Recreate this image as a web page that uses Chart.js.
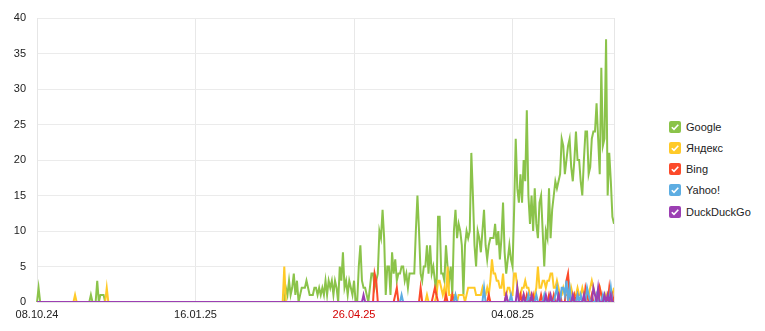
<!DOCTYPE html>
<html>
<head>
<meta charset="utf-8">
<script src="https://cdn.jsdelivr.net/npm/chart.js@4.4.1/dist/chart.umd.min.js"></script>
<style>
  html, body { margin: 0; padding: 0; background: #fff; }
  #wrap { position: relative; width: 765px; height: 331px; }
  #box { position: absolute; left: 0; top: 0; width: 640px; height: 331px; }
  #legend { position: absolute; left: 669px; top: 116px; font: 11px "Liberation Sans", Arial, sans-serif; color: #222; }
  #legend .item { height: 21.25px; display: flex; align-items: center; }
  #legend svg { margin-right: 5px; }
</style>
</head>
<body>
<div id="wrap">
  <div id="box"><canvas id="chart"></canvas></div>
  <div id="legend"></div>
</div>
<script>
// one value per day, starting 08.10.24
const startDate = new Date(2024, 9, 8);
const dayCount = 365;
const tickLabels = ['08.10.24', '16.01.25', '26.04.25', '04.08.25'];
const seriesNames = ['Google', 'Яндекс', 'Bing', 'Yahoo!', 'DuckDuckGo'];
const seriesColors = ['#8bc34a', '#ffca28', '#fc4a2a', '#5dade2', '#9c3fb3'];

const google = [
  0,2,0,0,0,0,0,0,0,0,0,0,0,0,0,0,0,0,0,0,
  0,0,0,0,0,0,0,0,0,0,0,0,0,0,1,0,0,0,3,0,
  1,1,1,0,0,0,0,0,0,0,0,0,0,0,0,0,0,0,0,0,
  0,0,0,0,0,0,0,0,0,0,0,0,0,0,0,0,0,0,0,0,
  0,0,0,0,0,0,0,0,0,0,0,0,0,0,0,0,0,0,0,0,
  0,0,0,0,0,0,0,0,0,0,0,0,0,0,0,0,0,0,0,0,
  0,0,0,0,0,0,0,0,0,0,0,0,0,0,0,0,0,0,0,0,
  0,0,0,0,0,0,0,0,0,0,0,0,0,0,0,0,0,2,1,3,
  1,2,4,1,3,0,1,2,2,2,3,2,1,1,1,2,2,1,2,1,
  2,1,3,1,3,2,3,1,3,2,0,5,3,7,2,3,1,3,2,1,
  3,0,0,5,8,3,2,2,1,0,2,4,4,2,3,4,10,9,13,9,
  1,5,5,1,7,4,6,3,4,4,5,5,3,4,2,4,4,4,4,10,
  15,10,4,3,5,5,8,4,8,4,5,3,1,12,12,4,4,3,8,5,
  3,5,1,10,13,9,11,10,8,1,8,10,9,10,21,15,8,5,10,9,
  7,10,13,8,6,8,9,9,9,11,8,10,6,9,14,7,4,6,8,6,
  5,13,23,16,14,18,14,20,17,27,15,11,15,10,16,11,9,14,15,10,
  5,10,9,16,9,13,15,17,16,17,18,23,22,18,20,22,23,19,17,20,
  24,20,20,17,15,20,24,24,18,19,23,24,24,28,23,18,33,22,23,37,
  15,21,17,12,11
];

const yandex = [
  0,0,0,0,0,0,0,0,0,0,0,0,0,0,0,0,0,0,0,0,
  0,0,0,0,1,0,0,0,0,0,0,0,0,0,0,0,0,0,0,0,
  0,0,0,0,2,0,0,0,0,0,0,0,0,0,0,0,0,0,0,0,
  0,0,0,0,0,0,0,0,0,0,0,0,0,0,0,0,0,0,0,0,
  0,0,0,0,0,0,0,0,0,0,0,0,0,0,0,0,0,0,0,0,
  0,0,0,0,0,0,0,0,0,0,0,0,0,0,0,0,0,0,0,0,
  0,0,0,0,0,0,0,0,0,0,0,0,0,0,0,0,0,0,0,0,
  0,0,0,0,0,0,0,0,0,0,0,0,0,0,0,0,5,0,0,0,
  0,0,0,0,0,0,0,0,0,0,0,0,0,0,0,0,0,0,0,0,
  0,0,0,0,0,0,0,0,0,0,0,0,0,0,0,0,0,0,0,0,
  0,0,0,0,0,0,0,0,0,0,0,0,0,0,0,0,0,0,0,0,
  0,0,0,0,0,0,0,0,0,0,0,0,0,0,0,0,0,0,0,0,
  0,0,0,0,0,0,1,0,0,0,0,0,1,3,3,2,1,2,0,5,
  1,1,0,1,1,0,1,1,1,1,0,1,2,2,2,2,2,1,1,1,
  1,2,1,1,2,1,3,6,4,4,3,3,2,2,4,1,1,2,2,1,
  1,4,4,2,1,1,2,2,3,2,2,1,1,0,1,2,5,2,2,3,
  3,2,3,3,4,4,2,2,3,2,1,1,2,1,1,1,0,2,1,1,
  1,2,1,1,2,1,0,1,1,2,3,2,1,1,1,2,1,1,0,1,
  0,1,1,1,2
];

const bing = [
  0,0,0,0,0,0,0,0,0,0,0,0,0,0,0,0,0,0,0,0,
  0,0,0,0,0,0,0,0,0,0,0,0,0,0,0,0,0,0,0,0,
  0,0,0,0,0,0,0,0,0,0,0,0,0,0,0,0,0,0,0,0,
  0,0,0,0,0,0,0,0,0,0,0,0,0,0,0,0,0,0,0,0,
  0,0,0,0,0,0,0,0,0,0,0,0,0,0,0,0,0,0,0,0,
  0,0,0,0,0,0,0,0,0,0,0,0,0,0,0,0,0,0,0,0,
  0,0,0,0,0,0,0,0,0,0,0,0,0,0,0,0,0,0,0,0,
  0,0,0,0,0,0,0,0,0,0,0,0,0,0,0,0,0,0,0,0,
  0,0,0,0,0,0,0,0,0,0,0,0,0,0,0,0,0,0,0,0,
  0,0,0,0,0,0,0,0,0,0,0,0,0,0,0,0,0,0,0,0,
  0,0,0,0,0,0,0,0,0,0,0,0,0,4,3,0,0,0,0,0,
  0,0,0,0,0,0,1,2,0,0,0,0,0,0,0,0,0,0,0,0,
  0,0,2,0,0,0,0,0,0,0,1,2,1,0,0,0,0,0,1,0,
  0,0,1,0,0,0,0,0,0,0,0,0,0,0,0,0,0,0,0,0,
  0,0,0,0,0,1,0,0,0,0,0,0,0,0,0,0,1,0,0,0,
  0,0,0,0,0,1,0,1,0,1,0,0,0,1,0,0,0,0,1,0,
  0,0,0,1,0,0,1,0,0,0,1,0,0,0,3,4,1,0,0,1,
  0,1,0,0,0,0,2,1,0,0,1,0,0,0,0,2,1,0,0,0,
  0,2,0,1,0
];

const yahoo = [
  0,0,0,0,0,0,0,0,0,0,0,0,0,0,0,0,0,0,0,0,
  0,0,0,0,0,0,0,0,0,0,0,0,0,0,0,0,0,0,0,0,
  0,0,0,0,0,0,0,0,0,0,0,0,0,0,0,0,0,0,0,0,
  0,0,0,0,0,0,0,0,0,0,0,0,0,0,0,0,0,0,0,0,
  0,0,0,0,0,0,0,0,0,0,0,0,0,0,0,0,0,0,0,0,
  0,0,0,0,0,0,0,0,0,0,0,0,0,0,0,0,0,0,0,0,
  0,0,0,0,0,0,0,0,0,0,0,0,0,0,0,0,0,0,0,0,
  0,0,0,0,0,0,0,0,0,0,0,0,0,0,0,0,0,0,0,0,
  0,0,0,0,0,0,0,0,0,0,0,0,0,0,0,0,0,0,0,0,
  0,0,0,0,0,0,0,0,0,0,0,0,0,0,0,0,0,0,0,0,
  0,0,0,0,0,0,0,0,0,0,0,0,0,0,0,0,0,0,0,0,
  0,0,0,0,0,0,0,0,0,0,1,0,0,0,0,0,0,0,0,0,
  0,0,0,0,0,0,0,0,0,0,0,0,0,0,0,0,0,0,0,0,
  0,0,0,0,1,0,0,0,0,0,0,0,0,0,0,0,0,0,0,0,
  0,0,2,0,0,0,0,0,0,0,0,0,0,0,0,0,0,0,0,1,
  0,0,0,0,0,0,0,0,0,0,1,0,0,0,0,1,0,0,0,0,
  1,0,0,0,0,0,0,1,2,0,0,2,2,1,3,0,2,0,0,0,
  0,1,0,1,0,0,0,2,1,0,0,0,0,1,0,0,0,1,0,0,
  0,0,2,0,0
];

const duckduckgo = [
  0,0,0,0,0,0,0,0,0,0,0,0,0,0,0,0,0,0,0,0,
  0,0,0,0,0,0,0,0,0,0,0,0,0,0,0,0,0,0,0,0,
  0,0,0,0,0,0,0,0,0,0,0,0,0,0,0,0,0,0,0,0,
  0,0,0,0,0,0,0,0,0,0,0,0,0,0,0,0,0,0,0,0,
  0,0,0,0,0,0,0,0,0,0,0,0,0,0,0,0,0,0,0,0,
  0,0,0,0,0,0,0,0,0,0,0,0,0,0,0,0,0,0,0,0,
  0,0,0,0,0,0,0,0,0,0,0,0,0,0,0,0,0,0,0,0,
  0,0,0,0,0,0,0,0,0,0,0,0,0,0,0,0,0,0,0,0,
  0,0,0,0,0,0,0,0,0,0,0,0,0,0,0,0,0,0,0,0,
  0,0,0,0,0,0,0,0,0,0,0,0,0,0,0,0,0,0,0,0,
  0,0,0,0,0,0,1,0,0,0,0,0,0,0,0,0,0,0,0,0,
  0,0,0,0,0,0,0,0,0,0,0,0,0,0,0,0,0,0,0,0,
  0,0,0,0,0,0,0,0,0,0,0,0,0,0,0,0,0,0,0,0,
  0,0,0,0,0,0,0,0,0,0,0,0,0,0,0,0,0,0,0,0,
  0,0,0,0,0,0,0,0,0,0,0,0,0,0,0,0,1,0,0,0,
  0,0,0,2,0,0,0,1,0,0,0,0,1,0,0,0,0,0,0,0,
  0,1,0,0,1,0,0,0,0,1,0,0,0,0,0,0,0,0,1,0,
  0,0,0,0,0,1,0,0,0,0,0,2,1,0,2,0,0,0,1,0,
  1,0,1,0,0
];

const seriesValues = [google, yandex, bing, yahoo, duckduckgo];

function pad(n) { return n < 10 ? '0' + n : '' + n; }

const dates = [];
const labels = [];
for (let i = 0; i < dayCount; i++) {
    const d = new Date(startDate.getFullYear(), startDate.getMonth(), startDate.getDate() + i);
    dates.push(d);
    labels.push(pad(d.getDate()) + '.' + pad(d.getMonth() + 1) + '.' + pad(d.getFullYear() % 100));
}

// saturdays are shown in red
function tickColor(ctx) {
    const label = ctx.tick ? ctx.tick.label : null;
    const i = labels.indexOf(label);
    if (i >= 0 && dates[i].getDay() === 6) {
        return '#d40000';
    }
    return '#222';
}

// right edge of the plot area
const frame = {
    id: 'frame',
    afterDraw(chart) {
        const a = chart.chartArea;
        const ctx = chart.ctx;
        ctx.save();
        ctx.strokeStyle = '#e6e6e6';
        ctx.lineWidth = 1;
        ctx.beginPath();
        ctx.moveTo(Math.round(a.right) + 0.5, a.top);
        ctx.lineTo(Math.round(a.right) + 0.5, a.bottom);
        ctx.stroke();
        ctx.restore();
    }
};

const datasets = seriesNames.map(function(name, i) {
    return {
        label: name,
        data: seriesValues[i],
        borderColor: seriesColors[i],
        backgroundColor: seriesColors[i],
        borderWidth: 2,
        pointRadius: 0,
        tension: 0,
        fill: false,
        order: seriesNames.length - i
    };
});

Chart.defaults.font.family = '"Liberation Sans", Arial, sans-serif';
Chart.defaults.font.size = 11;

new Chart(document.getElementById('chart'), {
    type: 'line',
    data: { labels: labels, datasets: datasets },
    options: {
        responsive: true,
        maintainAspectRatio: false,
        animation: false,
        layout: { padding: { top: 18, right: 26, left: 0, bottom: 0 } },
        plugins: { legend: { display: false }, tooltip: { enabled: false } },
        scales: {
            x: {
                afterFit: function(scale) { scale.height = 29; },
                grid: { color: '#e8e8e8', drawTicks: false },
                border: { color: '#e6e6e6' },
                ticks: {
                    autoSkip: false,
                    maxRotation: 0,
                    padding: 6,
                    color: tickColor,
                    callback: function(value, index) {
                        return tickLabels.indexOf(labels[index]) >= 0 ? labels[index] : null;
                    }
                }
            },
            y: {
                min: 0,
                max: 40,
                afterFit: function(scale) { scale.width = 37; },
                grid: { color: '#ebebeb', drawTicks: false },
                border: { color: '#e6e6e6' },
                ticks: { stepSize: 5, padding: 11, color: '#222' }
            }
        }
    },
    plugins: [frame]
});

// legend with checkboxes
const legend = document.getElementById('legend');
seriesNames.forEach(function(name, i) {
    const item = document.createElement('div');
    item.className = 'item';
    item.innerHTML = '<svg width="12" height="12" viewBox="0 0 12 12">' +
        '<rect width="12" height="12" rx="2" fill="' + seriesColors[i] + '"/>' +
        '<path d="M2.8 6.2 L5 8.4 L9.3 3.7" stroke="#fff" stroke-width="1.6" fill="none"/></svg>' +
        '<span>' + name + '</span>';
    legend.appendChild(item);
});
</script>
</body>
</html>
